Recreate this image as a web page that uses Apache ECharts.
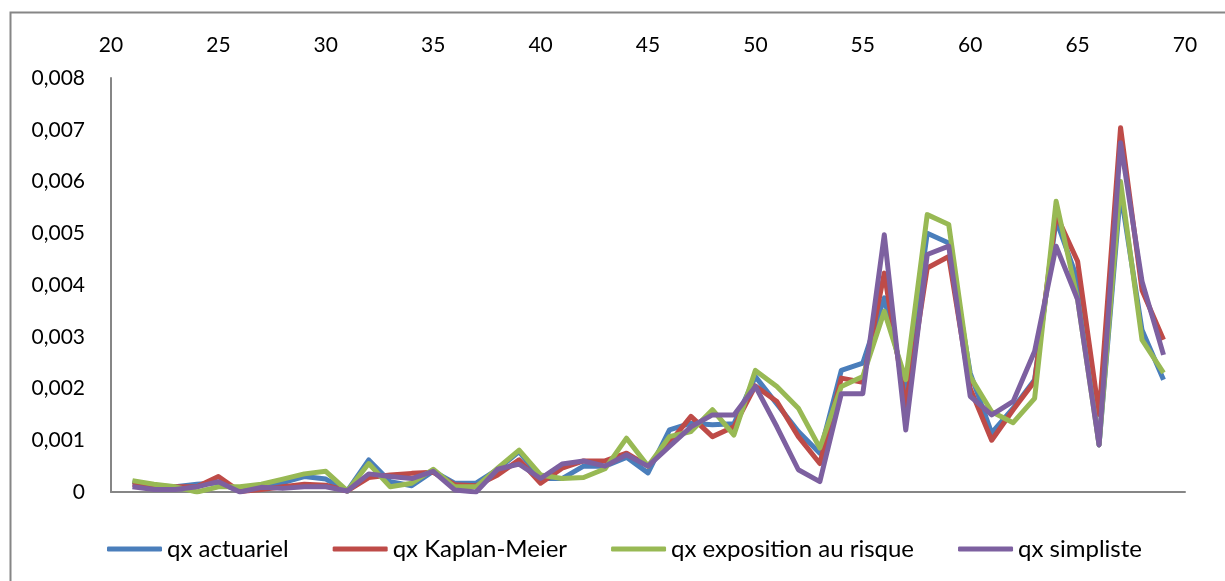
<!DOCTYPE html>
<html>
<head>
<meta charset="utf-8">
<script src="https://cdn.jsdelivr.net/npm/echarts@6/dist/echarts.min.js"></script>
<style>
  html, body { margin: 0; padding: 0; background: #ffffff; }
  #chart { width: 1225px; height: 581px; }
</style>
</head>
<body>
<div id="chart"></div>
<script>
// Ages covered by the mortality table
const ages = [21,22,23,24,25,26,27,28,29,30,31,32,33,34,35,36,37,38,39,40,41,42,43,44,45,
              46,47,48,49,50,51,52,53,54,55,56,57,58,59,60,61,62,63,64,65,66,67,68,69];

// Death probabilities qx by estimation method
const qxActuariel = [0.0002,0.00012,0.0001,0.00015,0.00018,0.00002,0.0001,0.00018,0.0003,0.00025,
  0.00002,0.00062,0.0002,0.00012,0.0004,0.00017,0.00017,0.00044,0.00078,0.00026,
  0.00026,0.0005,0.0005,0.00067,0.00037,0.0012,0.00133,0.0013,0.00132,0.00223,
  0.0017,0.00117,0.00075,0.00235,0.00249,0.00375,0.00197,0.005,0.00481,0.0023,
  0.00114,0.00162,0.00217,0.00526,0.0041,0.00091,0.0058,0.00313,0.00217];

const qxKaplanMeier = [0.00015,0.0001,0.0001,0.0001,0.0003,0.00001,0.00005,0.0001,0.00015,0.00013,
  0.00002,0.00028,0.00033,0.00036,0.00038,0.00014,0.00012,0.00033,0.00062,0.00017,
  0.00046,0.0006,0.0006,0.00075,0.0005,0.00095,0.00146,0.00107,0.00126,0.00205,
  0.00175,0.00107,0.00055,0.0022,0.00212,0.00423,0.00165,0.00433,0.00455,0.002,
  0.001,0.00159,0.00214,0.00536,0.00446,0.0015,0.00704,0.0039,0.00294];

const qxExposition = [0.00022,0.00015,0.0001,0.0,0.0001,0.0001,0.00015,0.00025,0.00035,0.0004,
  0.00002,0.00055,0.0001,0.00017,0.00044,0.0001,0.0001,0.00046,0.00081,0.00033,
  0.00026,0.00028,0.00045,0.00104,0.0005,0.00107,0.00117,0.00159,0.0011,0.00235,
  0.00204,0.00162,0.00085,0.00204,0.00223,0.00349,0.00217,0.00536,0.00517,0.00223,
  0.00155,0.00134,0.00181,0.00562,0.00372,0.00091,0.006,0.00294,0.0023];

const qxSimpliste = [0.0001,0.00005,0.00005,0.0001,0.0002,0.0,0.00009,0.00007,0.0001,0.0001,
  0.00002,0.00035,0.0003,0.00026,0.0004,0.00004,0.0,0.00044,0.00054,0.00026,
  0.00054,0.0006,0.0005,0.00072,0.0005,0.00088,0.00126,0.00149,0.00149,0.00204,
  0.00126,0.00043,0.0002,0.0019,0.0019,0.00497,0.0012,0.00459,0.00475,0.00185,
  0.00149,0.00175,0.00272,0.00475,0.00372,0.00091,0.00675,0.00407,0.00265];

const seriesNames = ['qx actuariel', 'qx Kaplan-Meier', 'qx exposition au risque', 'qx simpliste'];
const seriesValues = [qxActuariel, qxKaplanMeier, qxExposition, qxSimpliste];
const seriesColors = ['#4a7ebb', '#be4b48', '#98b954', '#7d60a0'];

const FONT = 'Lato';
const AXIS_GRAY = '#868686';

function pairs(values) {
  return ages.map((a, i) => [a, values[i]]);
}

function formatQx(v) {
  if (v === 0) return '0';
  return v.toFixed(3).replace('.', ',');
}

const chart = echarts.init(document.getElementById('chart'), null, { renderer: 'canvas' });

chart.setOption({
  backgroundColor: '#ffffff',
  animation: false,
  graphic: [{
    type: 'rect',
    left: 8, top: 10,
    shape: { width: 1400, height: 800 },
    style: { fill: 'none', stroke: AXIS_GRAY, lineWidth: 2 },
    silent: true,
    z: -1
  }],
  grid: { left: 111, right: 40, top: 78, bottom: 89, containLabel: false },
  legend: {
    top: 532,
    left: 102,
    icon: 'roundRect',
    itemWidth: 55,
    itemHeight: 5,
    itemGap: 44,
    textStyle: { fontFamily: FONT, fontSize: 24, color: '#000' },
    data: seriesNames
  },
  xAxis: [{
    type: 'value',
    position: 'top',
    min: 20, max: 70, interval: 5,
    axisLine: { show: false },
    axisTick: { show: false },
    splitLine: { show: false },
    axisLabel: { margin: 22, fontFamily: FONT, fontSize: 21, color: '#000' }
  }, {
    type: 'value',
    position: 'bottom',
    min: 20, max: 70, interval: 5,
    axisLine: { show: true, onZero: false, lineStyle: { color: AXIS_GRAY, width: 2 } },
    axisTick: { show: false },
    splitLine: { show: false },
    axisLabel: { show: false }
  }],
  yAxis: {
    type: 'value',
    min: 0, max: 0.008, interval: 0.001,
    axisLine: { show: true, lineStyle: { color: AXIS_GRAY, width: 2 } },
    axisTick: { show: false },
    splitLine: { show: false },
    axisLabel: { margin: 26, fontFamily: FONT, fontSize: 21, color: '#000', formatter: formatQx }
  },
  series: seriesNames.map((name, i) => ({
    name: name,
    type: 'line',
    xAxisIndex: 0,
    data: pairs(seriesValues[i]),
    symbol: 'none',
    smooth: false,
    color: seriesColors[i],
    lineStyle: { width: 5, color: seriesColors[i], join: 'round' },
    z: 2 + i
  }))
});
</script>
</body>
</html>
